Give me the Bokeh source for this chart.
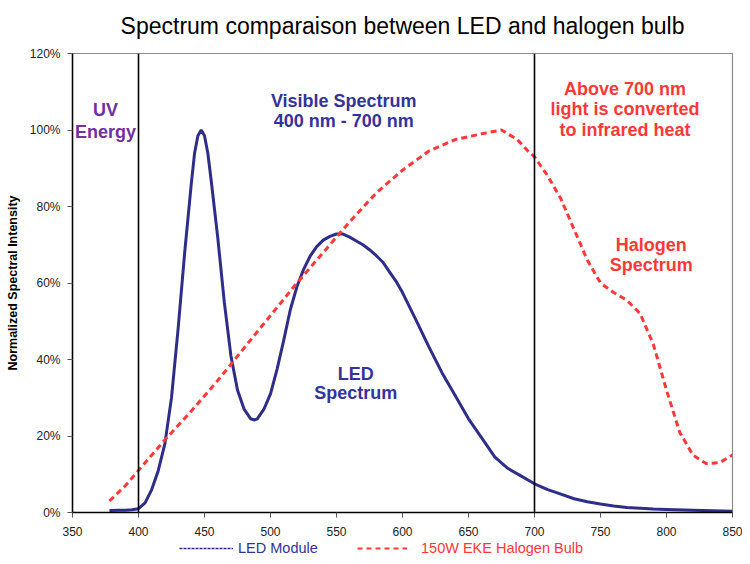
from bokeh.plotting import figure
from bokeh.layouts import column
from bokeh.models import (Range1d, FixedTicker, PrintfTickFormatter, Span, Label,
                          Legend, LegendItem)
from bokeh.embed import file_html
from bokeh.resources import INLINE

# ---------------- data ----------------
wavelength_ticks = [350, 400, 450, 500, 550, 600, 650, 700, 750, 800, 850]
intensity_ticks = [0, 20, 40, 60, 80, 100, 120]
region_bounds = [400, 700]

led_nm = [378, 385, 390, 395, 400, 405, 410, 415, 420, 425, 430, 435, 440, 442.5, 445,
          447.5, 450, 452.5, 455, 460, 465, 470, 475, 480, 485, 488, 490, 495, 500, 505,
          510, 515, 520, 525, 530, 535, 540, 545, 550, 555, 560, 565, 570, 575, 580, 585,
          590, 595, 600, 610, 620, 630, 640, 650, 660, 670, 680, 690, 700, 710, 720, 730,
          740, 750, 760, 770, 780, 790, 800, 820, 850]
led_val = [0.5, 0.6, 0.6, 0.7, 1.0, 2.5, 6, 11, 18, 30, 48, 68, 86, 94, 98.5,
           100, 98.5, 94, 87, 72, 55, 41, 32, 27, 24.5, 24.2, 24.5, 27, 31, 37.5,
           45, 53, 59, 63.5, 67, 69.5, 71.2, 72.2, 72.8, 72.8, 72, 71, 70, 68.7, 67.2, 65.5,
           63, 60.5, 57.5, 50.5, 43.3, 36.5, 30.5, 24.5, 19.5, 14.5, 11.5, 9.5, 7.5, 6, 4.8, 3.6,
           2.8, 2.2, 1.7, 1.3, 1.1, 0.9, 0.8, 0.6, 0.3]

hal_nm = [378, 390, 400, 420, 440, 460, 480, 500, 520, 540, 560, 580, 600, 620, 640, 660,
          675, 687, 695, 700, 710, 720, 730, 740, 750, 760, 770, 780, 790, 800, 810, 820,
          830, 840, 850]
hal_val = [3, 7, 11, 19, 26.5, 34.5, 43, 51.5, 60, 68, 76, 83.5, 89.5, 94.5, 97.5, 99,
           100, 97.5, 94.5, 93, 88, 82, 74, 66, 60, 57.5, 55.5, 52, 44, 32, 21, 15,
           12.8, 13, 15]

series_names = ["LED Module", "150W EKE Halogen Bulb"]

# ---------------- style ----------------
FONT = "Liberation Sans"
BLUE_TXT = "#333399"
BLUE_LINE = "#2E2E88"
RED = "#FF3838"
PURPLE = "#7030A0"

p = figure(width=742, height=538, output_backend="svg", toolbar_location=None,
           x_range=Range1d(350, 850), y_range=Range1d(0, 120),
           min_border_left=72, min_border_right=10, min_border_top=53,
           min_border_bottom=26,
           title="Spectrum comparaison between LED and halogen bulb")
p.title.text_font = FONT
p.title.text_font_size = "23px"
p.title.text_font_style = "normal"
p.title.align = "center"
p.title.text_color = "black"
p.title.vertical_align = "top"
p.title.standoff = 25

p.grid.visible = False
p.outline_line_color = "#8c8c8c"
p.outline_line_width = 1.2
p.background_fill_color = "white"
p.border_fill_color = "white"

# axes
p.xaxis.ticker = FixedTicker(ticks=wavelength_ticks)
p.yaxis.ticker = FixedTicker(ticks=intensity_ticks)
p.yaxis.formatter = PrintfTickFormatter(format="%d%%")
for ax in (p.xaxis[0], p.yaxis[0]):
    ax.axis_line_color = "black"
    ax.axis_line_width = 1.5
    ax.major_tick_line_color = "#555555"
    ax.major_tick_in = 0
    ax.major_tick_out = 5
    ax.minor_tick_line_color = None
    ax.major_label_text_font = FONT
    ax.major_label_text_font_size = "12px"
    ax.major_label_text_color = "#222222"
p.xaxis.major_label_standoff = 9
p.yaxis.major_label_standoff = 7
p.yaxis.axis_label = "Normalized Spectral Intensity"
p.yaxis.axis_label_text_font = FONT
p.yaxis.axis_label_text_font_size = "12.5px"
p.yaxis.axis_label_text_font_style = "bold"
p.yaxis.axis_label_text_color = "black"
p.yaxis.axis_label_standoff = 7

# region boundaries
for b in region_bounds:
    p.add_layout(Span(location=b, dimension="height", line_color="black", line_width=1.6))

# curves
r_led = p.line(led_nm, led_val, line_color=BLUE_LINE, line_width=3)
r_hal = p.line(hal_nm, hal_val, line_color=RED, line_width=3, line_dash="6 4")

# annotations
def add_lines(lines, x, y0, color, step=5.45):
    for i, t in enumerate(lines):
        p.add_layout(Label(x=x, y=y0 - i * step, text=t, text_align="center",
                           text_baseline="alphabetic", text_font=FONT,
                           text_font_size="18px", text_font_style="bold",
                           text_color=color))

add_lines(["UV", "Energy"], 375.0, 105.1, PURPLE, step=5.65)
add_lines(["Visible Spectrum", "400 nm - 700 nm"], 555.5, 107.7, BLUE_TXT)
add_lines(["Above 700 nm", "light is converted", "to infrared heat"], 768.5, 110.8, RED, step=5.35)
add_lines(["Halogen", "Spectrum"], 788.5, 70.0, RED, step=5.2)
add_lines(["LED", "Spectrum"], 564.5, 36.3, BLUE_TXT, step=5.1)

# ---------------- legend strip below the chart ----------------
# (its frame is aligned with the chart's frame by the column layout)
lf = figure(width=742, height=18, output_backend="svg", toolbar_location=None,
            x_range=Range1d(0, 1), y_range=Range1d(0, 1), min_border=0)
lf.axis.visible = False
lf.grid.visible = False
lf.outline_line_color = None
lf.background_fill_color = "white"
lf.border_fill_color = "white"

nan = float("nan")
k_led = lf.line([nan], [nan], line_color=BLUE_LINE, line_width=1.5, line_dash="3 1")
k_hal = lf.line([nan], [nan], line_color=RED, line_width=2, line_dash="5 4")

common = dict(orientation="horizontal", glyph_height=16, label_height=16,
              padding=0, margin=0, border_line_color=None, background_fill_alpha=0,
              label_text_font=FONT, label_text_font_size="14.5px",
              label_text_baseline="middle")
leg1 = Legend(items=[LegendItem(label=series_names[0], renderers=[k_led])],
              location=(107, 0), glyph_width=54, label_standoff=5,
              label_text_color=BLUE_TXT, **common)
leg2 = Legend(items=[LegendItem(label=series_names[1], renderers=[k_hal])],
              location=(285, 0), glyph_width=50, label_standoff=14,
              label_text_color=RED, **common)
lf.add_layout(leg1, "center")
lf.add_layout(leg2, "center")

layout = column(p, lf, spacing=0)
open("out.html", "w").write(file_html(layout, INLINE))
